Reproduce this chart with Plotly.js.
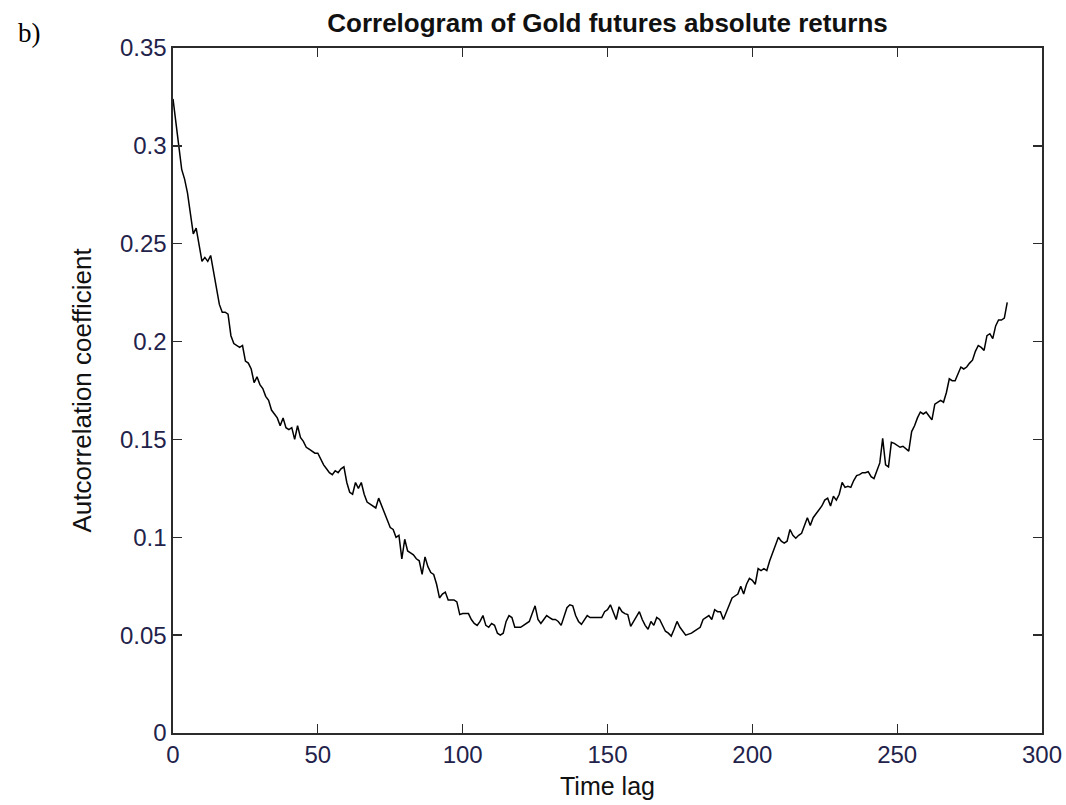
<!DOCTYPE html>
<html>
<head>
<meta charset="utf-8">
<script src="https://cdn.plot.ly/plotly-3.0.1.min.js"></script>
<style>
  html, body { margin: 0; padding: 0; background: #fff; }
  #chart { width: 1066px; height: 805px; }
</style>
</head>
<body>
<div id="chart"></div>
<script>
// Sample autocorrelation of absolute gold-futures returns, lags 0..288
const acf = [
  0.324, 0.313, 0.300, 0.288, 0.283, 0.276, 0.265, 0.255, 0.258, 0.250,
  0.241, 0.243, 0.241, 0.244, 0.236, 0.229, 0.219, 0.215, 0.215, 0.214,
  0.203, 0.199, 0.198, 0.197, 0.198, 0.190, 0.189, 0.186, 0.179, 0.182,
  0.178, 0.176, 0.172, 0.170, 0.165, 0.163, 0.161, 0.157, 0.161, 0.156,
  0.155, 0.156, 0.150, 0.157, 0.151, 0.149, 0.146, 0.145, 0.144, 0.143,
  0.143, 0.140, 0.137, 0.135, 0.133, 0.132, 0.134, 0.133, 0.135, 0.136,
  0.128, 0.123, 0.122, 0.128, 0.125, 0.128, 0.122, 0.118, 0.117, 0.116,
  0.115, 0.120, 0.116, 0.112, 0.108, 0.105, 0.104, 0.100, 0.101, 0.089,
  0.099, 0.093, 0.092, 0.091, 0.089, 0.088, 0.081, 0.090, 0.085, 0.082,
  0.081, 0.076, 0.069, 0.071, 0.072, 0.068, 0.068, 0.068, 0.067, 0.0605,
  0.061, 0.061, 0.061, 0.058, 0.056, 0.055, 0.057, 0.060, 0.055, 0.054,
  0.056, 0.055, 0.051, 0.050, 0.051, 0.057, 0.060, 0.059, 0.054, 0.054,
  0.054, 0.055, 0.056, 0.057, 0.061, 0.065, 0.058, 0.056, 0.058, 0.060,
  0.059, 0.058, 0.058, 0.057, 0.055, 0.060, 0.064, 0.0655, 0.065, 0.060,
  0.057, 0.0555, 0.058, 0.060, 0.059, 0.059, 0.059, 0.059, 0.059, 0.062,
  0.063, 0.0655, 0.062, 0.058, 0.0645, 0.062, 0.061, 0.0605, 0.0545, 0.057,
  0.059, 0.062, 0.058, 0.055, 0.053, 0.057, 0.055, 0.059, 0.058, 0.055,
  0.052, 0.051, 0.0495, 0.053, 0.057, 0.054, 0.052, 0.050, 0.0505, 0.051,
  0.052, 0.053, 0.054, 0.058, 0.059, 0.060, 0.058, 0.063, 0.062, 0.062,
  0.058, 0.062, 0.066, 0.069, 0.070, 0.071, 0.075, 0.071, 0.076, 0.079,
  0.078, 0.076, 0.084, 0.083, 0.084, 0.083, 0.088, 0.092, 0.096, 0.100,
  0.098, 0.097, 0.098, 0.104, 0.101, 0.0995, 0.101, 0.102, 0.106, 0.110,
  0.106, 0.110, 0.112, 0.114, 0.116, 0.119, 0.120, 0.116, 0.121, 0.119,
  0.122, 0.128, 0.1255, 0.126, 0.1255, 0.129, 0.1315, 0.132, 0.133, 0.133,
  0.1335, 0.131, 0.130, 0.134, 0.138, 0.1505, 0.137, 0.136, 0.1485, 0.148,
  0.147, 0.146, 0.1465, 0.145, 0.144, 0.154, 0.157, 0.161, 0.164, 0.163,
  0.164, 0.162, 0.160, 0.168, 0.169, 0.170, 0.169, 0.174, 0.181, 0.180,
  0.180, 0.184, 0.187, 0.186, 0.187, 0.189, 0.1905, 0.195, 0.198, 0.197,
  0.1955, 0.203, 0.204, 0.2015, 0.208, 0.211, 0.211, 0.212, 0.220
];
const lags = acf.map((_, i) => i);

const xTicks = [0, 50, 100, 150, 200, 250, 300];
const yTicks = [0, 0.05, 0.1, 0.15, 0.2, 0.25, 0.3, 0.35];
const yTickText = ['0', '0.05', '0.1', '0.15', '0.2', '0.25', '0.3', '0.35'];

const FONT = 'Liberation Sans, Arial, sans-serif';
const TICK_COLOR = '#22224a';

const trace = {
  x: lags,
  y: acf,
  type: 'scatter',
  mode: 'lines',
  line: { color: '#000000', width: 1.5 },
  hoverinfo: 'x+y'
};

const axisCommon = {
  showline: true,
  linecolor: '#2b2b2b',
  linewidth: 1.6,
  mirror: 'ticks',
  ticks: 'inside',
  ticklen: 9,
  tickwidth: 1.3,
  tickcolor: '#2b2b2b',
  showgrid: false,
  zeroline: false,
  tickfont: { family: FONT, size: 24, color: TICK_COLOR }
};

const layout = {
  width: 1066,
  height: 805,
  paper_bgcolor: '#ffffff',
  plot_bgcolor: '#ffffff',
  margin: { l: 173, r: 24, t: 48, b: 72, pad: 0 },
  showlegend: false,
  title: {
    text: '<b>Correlogram of Gold futures absolute returns</b>',
    font: { family: FONT, size: 26, color: '#111111' },
    x: 0.5, xref: 'paper', xanchor: 'center',
    y: 1 - 23 / 805, yref: 'container', yanchor: 'middle'
  },
  xaxis: Object.assign({}, axisCommon, {
    range: [0, 300],
    tickvals: xTicks,
    ticktext: xTicks.map(String),
    title: { text: 'Time lag', font: { family: FONT, size: 25, color: '#111111' }, standoff: 10 }
  }),
  yaxis: Object.assign({}, axisCommon, {
    range: [0, 0.35],
    tickvals: yTicks,
    ticktext: yTickText,
    title: { text: 'Autcorrelation coefficient', font: { family: FONT, size: 26, color: '#111111' }, standoff: 21 }
  }),
  annotations: [{
    text: 'b)',
    xref: 'paper', yref: 'paper',
    x: (29 - 173) / 869, y: 1 + (48 - 33) / 685,
    xanchor: 'center', yanchor: 'middle',
    showarrow: false,
    font: { family: 'Liberation Serif, Times New Roman, serif', size: 27, color: '#000000' }
  }]
};

Plotly.newPlot('chart', [trace], layout, { displayModeBar: false, staticPlot: true });
</script>
</body>
</html>
